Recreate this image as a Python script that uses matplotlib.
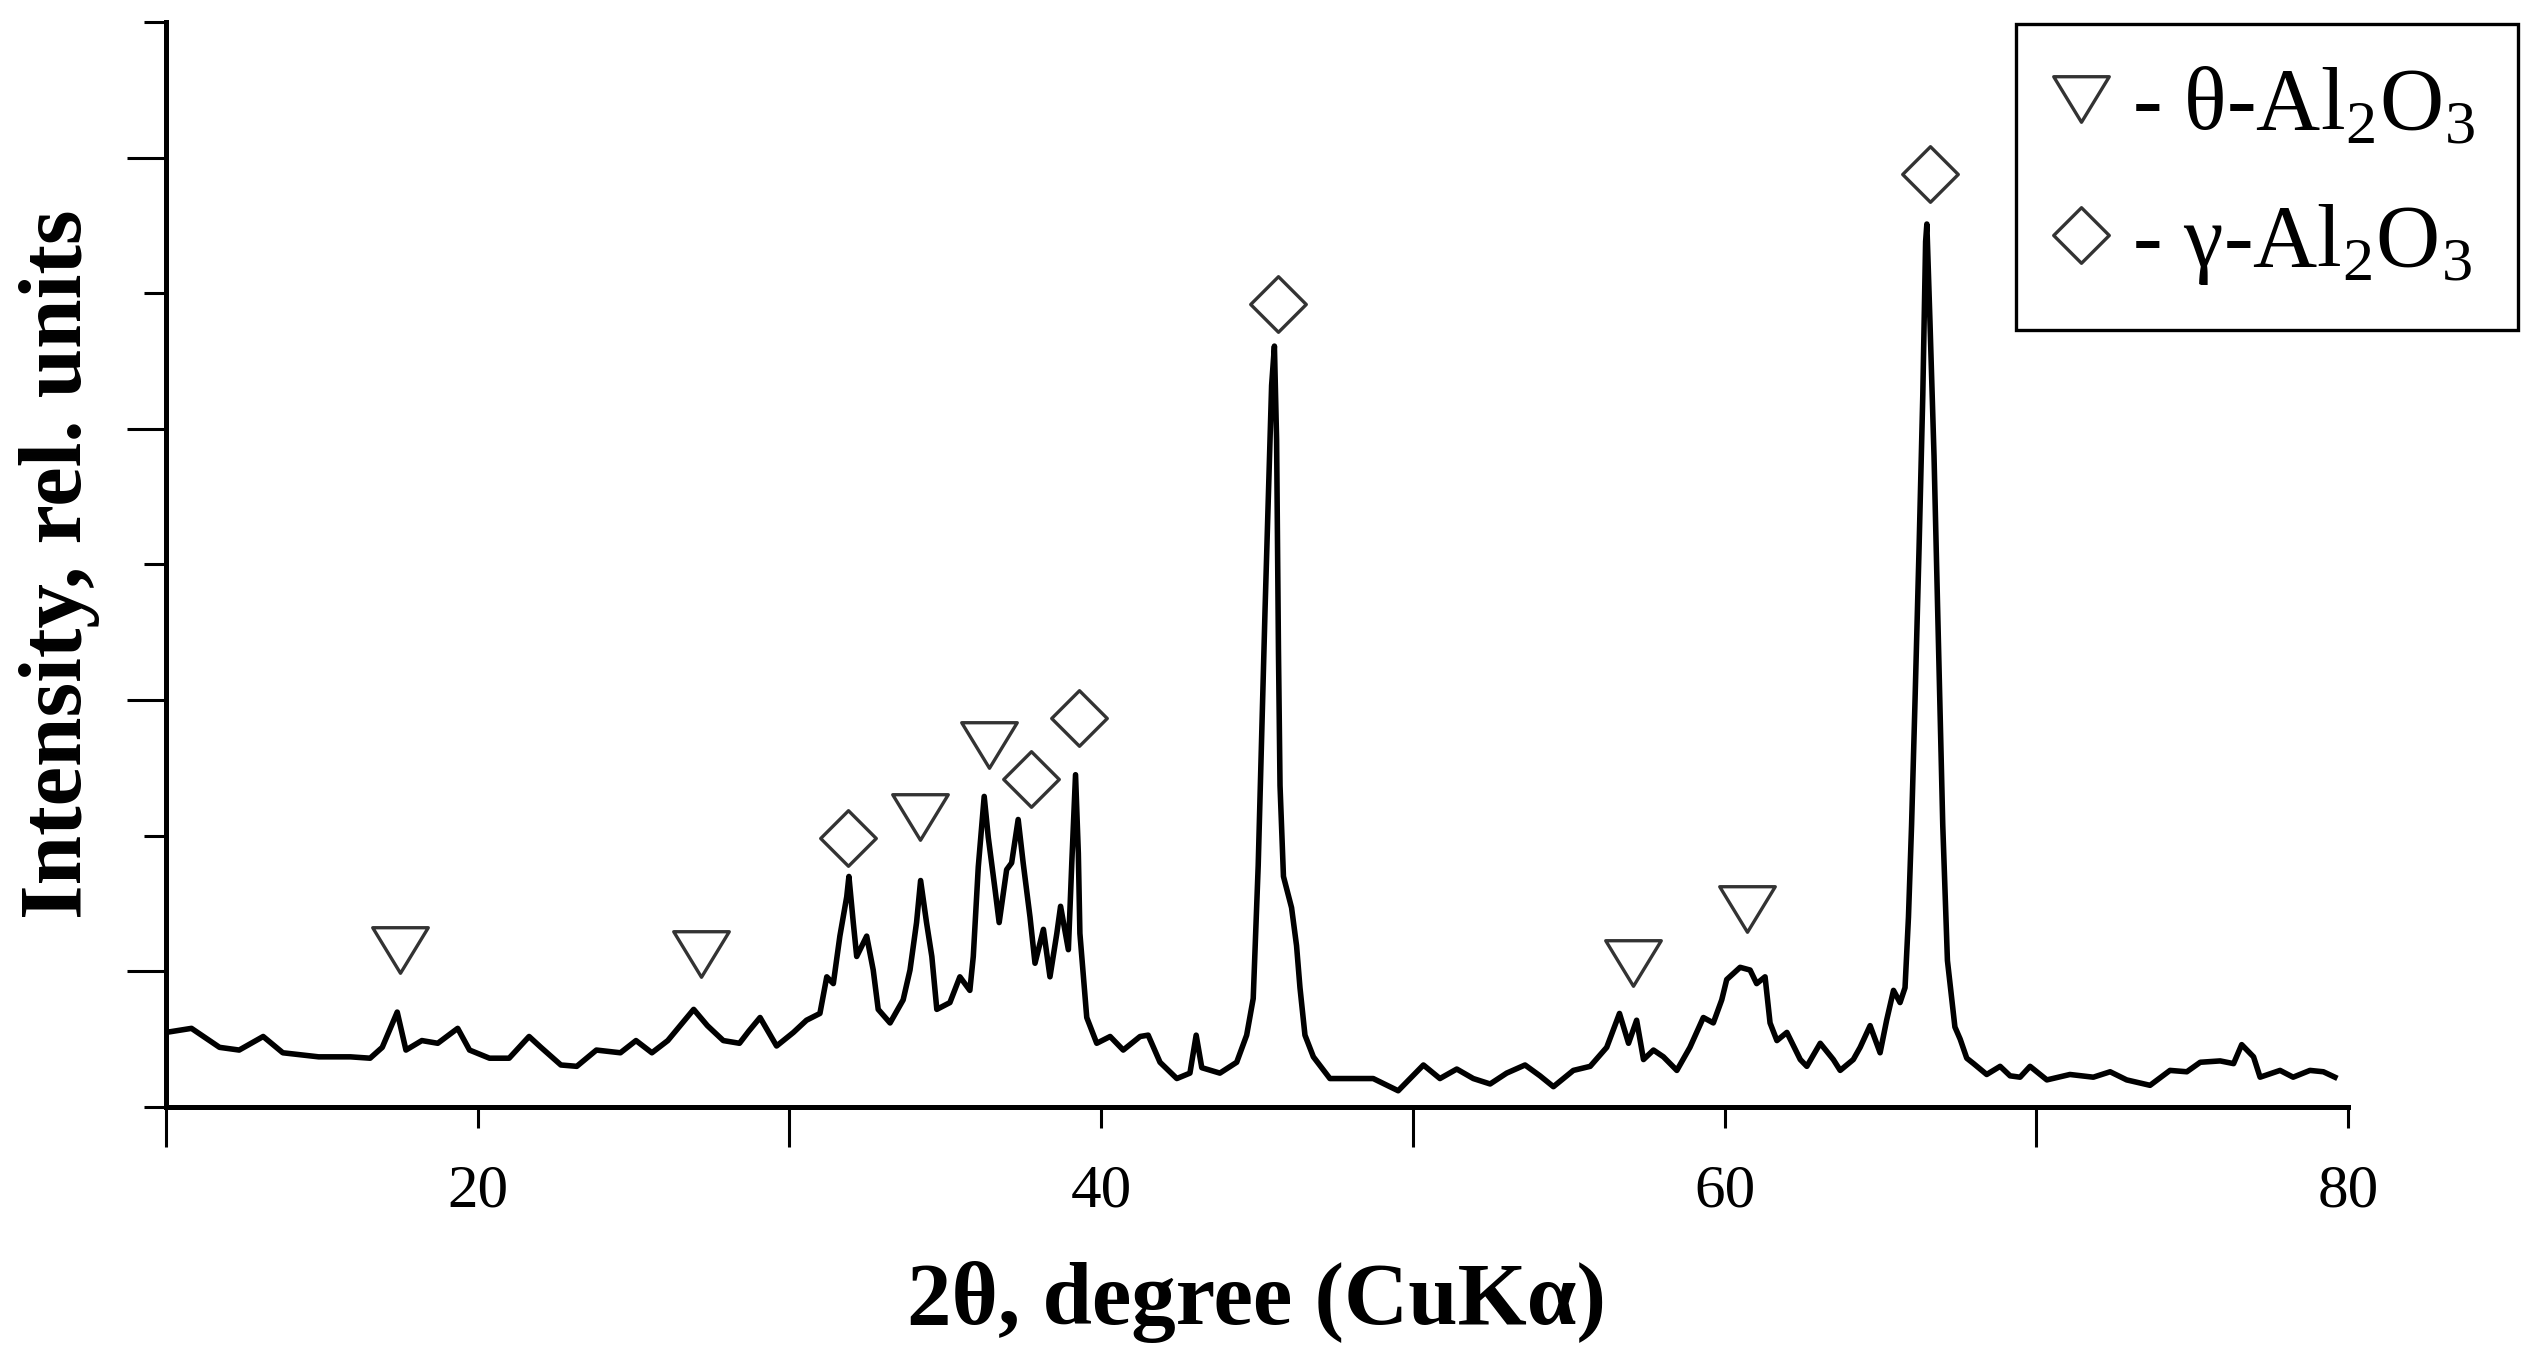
import matplotlib
matplotlib.use('Agg')
import matplotlib.pyplot as plt
from matplotlib.lines import Line2D
from matplotlib.path import Path

plt.rcParams['font.family'] = ['Liberation Serif', 'DejaVu Serif']
plt.rcParams['mathtext.fontset'] = 'custom'
plt.rcParams['mathtext.rm'] = 'Liberation Serif'

# diffraction pattern (2theta in degrees, intensity in rel. units)
two_theta = [10.0, 10.82, 11.72, 12.35, 13.12, 13.75, 14.9, 15.92, 16.55, 16.94,
             17.42, 17.7, 18.21, 18.72, 19.36, 19.74, 20.38, 21.01, 21.65, 22.03,
             22.67, 23.18, 23.81, 24.58, 25.08, 25.59, 26.1, 26.93, 27.37, 27.88,
             28.4, 28.7, 29.06, 29.16, 29.59, 30.13, 30.55, 30.98, 31.2, 31.41,
             31.62, 31.84, 31.91, 32.05, 32.16, 32.48, 32.69, 32.85, 33.23, 33.65,
             33.87, 34.08, 34.21, 34.4, 34.57, 34.73, 35.15, 35.47, 35.79, 35.9,
             36.06, 36.25, 36.38, 36.6, 36.73, 36.97, 37.13, 37.34, 37.5, 37.72,
             37.88, 38.15, 38.36, 38.58, 38.7, 38.95, 39.06, 39.18, 39.27, 39.32,
             39.54, 39.86, 40.29, 40.71, 41.25, 41.51, 41.89, 42.43, 42.85, 43.05,
             43.23, 43.81, 44.35, 44.67, 44.88, 45.04, 45.15, 45.26, 45.37, 45.47,
             45.56, 45.63, 45.69, 45.74, 45.85, 46.11, 46.27, 46.38, 46.54, 46.81,
             47.34, 48.09, 48.73, 49.53, 50.34, 50.87, 51.41, 51.94, 52.48, 53.01,
             53.6, 54.08, 54.51, 55.15, 55.69, 56.22, 56.63, 56.92, 57.18, 57.4,
             57.72, 58.04, 58.47, 58.89, 59.32, 59.64, 59.91, 60.07, 60.5, 60.82,
             61.03, 61.3, 61.46, 61.68, 62.0, 62.43, 62.64, 63.07, 63.49, 63.71,
             64.13, 64.35, 64.67, 64.99, 65.2, 65.42, 65.63, 65.79, 65.9, 66.0,
             66.11, 66.24, 66.36, 66.45, 66.49, 66.59, 66.72, 66.86, 67.0, 67.15,
             67.39, 67.56, 67.77, 67.99, 68.41, 68.84, 69.16, 69.48, 69.8, 70.34,
             71.08, 71.83, 72.37, 72.9, 73.65, 74.29, 74.83, 75.26, 75.9, 76.33,
             76.59, 76.97, 77.18, 77.82, 78.24, 78.78, 79.21, 79.58]
intensity = [0.55, 0.58, 0.44, 0.42, 0.52, 0.40, 0.37, 0.37, 0.36, 0.44,
             0.70, 0.42, 0.49, 0.47, 0.58, 0.42, 0.36, 0.36, 0.52, 0.44,
             0.31, 0.30, 0.42, 0.40, 0.49, 0.40, 0.49, 0.72, 0.60, 0.49,
             0.47, 0.56, 0.66, 0.62, 0.45, 0.55, 0.64, 0.69, 0.96, 0.91,
             1.26, 1.55, 1.70, 1.36, 1.11, 1.26, 1.01, 0.72, 0.62, 0.79,
             1.01, 1.36, 1.67, 1.36, 1.11, 0.72, 0.77, 0.96, 0.86, 1.11,
             1.77, 2.29, 1.99, 1.60, 1.36, 1.75, 1.80, 2.12, 1.80, 1.40,
             1.06, 1.31, 0.96, 1.28, 1.48, 1.16, 1.80, 2.45, 1.87, 1.28,
             0.66, 0.47, 0.52, 0.42, 0.52, 0.53, 0.33, 0.21, 0.25, 0.53,
             0.29, 0.25, 0.33, 0.53, 0.80, 1.78, 2.73, 3.67, 4.53, 5.32,
             5.61, 4.92, 3.36, 2.37, 1.70, 1.47, 1.19, 0.88, 0.53, 0.37,
             0.21, 0.21, 0.21, 0.12, 0.31, 0.21, 0.28, 0.21, 0.17, 0.25,
             0.31, 0.23, 0.15, 0.27, 0.30, 0.44, 0.69, 0.47, 0.64, 0.35,
             0.42, 0.37, 0.27, 0.44, 0.66, 0.62, 0.79, 0.94, 1.03, 1.01,
             0.91, 0.96, 0.62, 0.49, 0.55, 0.35, 0.30, 0.47, 0.35, 0.27,
             0.35, 0.44, 0.60, 0.40, 0.64, 0.86, 0.77, 0.88, 1.40, 2.08,
             2.99, 4.12, 5.25, 6.38, 6.51, 5.79, 4.80, 3.44, 2.08, 1.08,
             0.59, 0.50, 0.36, 0.32, 0.24, 0.30, 0.23, 0.22, 0.30, 0.20,
             0.24, 0.22, 0.26, 0.20, 0.16, 0.27, 0.26, 0.33, 0.34, 0.32,
             0.46, 0.37, 0.22, 0.27, 0.22, 0.27, 0.26, 0.22]

# phase marks
theta_pos = [17.5, 27.15, 34.19, 36.39, 57.05, 60.73]
theta_lvl = [1.16, 1.13, 2.14, 2.67, 1.06, 1.46]
gamma_pos = [31.88, 37.74, 39.28, 45.69, 66.6]
gamma_lvl = [1.98, 2.42, 2.87, 5.92, 6.88]

phase_labels = ['- θ-Al$_2$O$_3$', '- γ-Al$_2$O$_3$']

tri = Path([(-1, 0.82), (1, 0.82), (0, -0.82), (-1, 0.82)], closed=True)
diamond = Path([(0, 1), (1, 0), (0, -1), (-1, 0), (0, 1)], closed=True)
mark_col = '#333333'

fig = plt.figure(figsize=(12.685, 6.815), dpi=200)
ax = fig.add_axes([0.0654, 0.1878, 0.8601, 0.7961])

ax.plot(two_theta, intensity, color='black', lw=2.0)
ax.plot(theta_pos, theta_lvl, ls='none', marker=tri, ms=20, mfc='none',
        mec=mark_col, mew=1.2)
ax.plot(gamma_pos, gamma_lvl, ls='none', marker=diamond, ms=20, mfc='none',
        mec=mark_col, mew=1.2)

ax.set_xlim(10, 80)
ax.set_ylim(0, 8)

for s in ['top', 'right']:
    ax.spines[s].set_visible(False)
for s in ['left', 'bottom']:
    ax.spines[s].set_linewidth(1.8)

ax.set_xticks([20, 40, 60, 80])
ax.set_xticks([10, 30, 50, 70], minor=True)
ax.set_yticks([0, 2, 4, 6, 8])
ax.set_yticks([1, 3, 5, 7], minor=True)
ax.tick_params(axis='x', which='major', direction='out', length=7.6, width=1.1,
               pad=13, labelsize=22)
ax.tick_params(axis='x', which='minor', direction='out', length=14.4, width=1.1)
ax.tick_params(axis='y', which='major', direction='out', length=8, width=1.1,
               labelleft=False)
ax.tick_params(axis='y', which='minor', direction='out', length=14, width=1.1)

ax.set_xlabel('2θ, degree (CuKα)', fontsize=32, fontweight='bold')
ax.xaxis.set_label_coords(0.5, -0.142)
ax.set_ylabel('Intensity, rel. units', fontsize=32, fontweight='bold')
ax.yaxis.set_label_coords(-0.030, 0.5)

handles = [Line2D([], [], ls='none', marker=tri, ms=20, mfc='none', mec=mark_col, mew=1.2),
           Line2D([], [], ls='none', marker=diamond, ms=20, mfc='none', mec=mark_col, mew=1.2)]
leg = fig.legend(handles, phase_labels, loc='upper right',
                 bbox_to_anchor=(2518 / 2537, 1 - 24 / 1363), fontsize=32,
                 fancybox=False, edgecolor='black', framealpha=1,
                 borderpad=0.48, handlelength=0.5, handletextpad=0.33,
                 labelspacing=0.6, borderaxespad=0)
leg.get_frame().set_linewidth(1.2)

fig.savefig('out.png', dpi=200)
